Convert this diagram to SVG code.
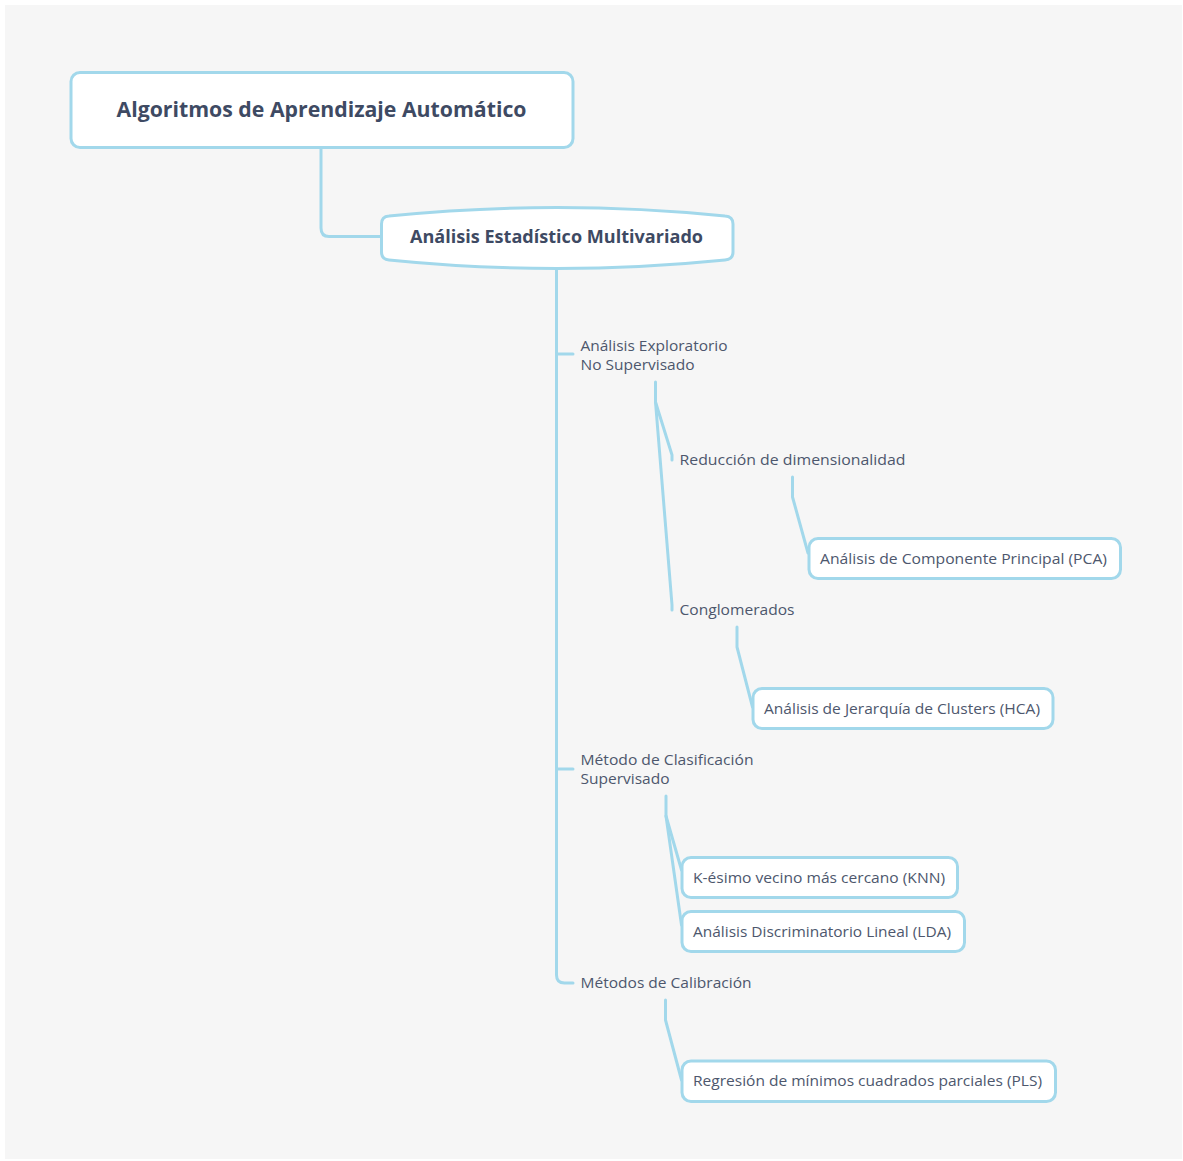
<svg xmlns="http://www.w3.org/2000/svg" width="1183" height="1161" viewBox="0 0 1183 1161">
<style>
.conn{fill:none;stroke:#a2d8eb;stroke-width:3;stroke-linecap:round;stroke-linejoin:round}
.box{fill:#ffffff;stroke:#a2d8eb;stroke-width:3}
.lbl{font-family:"Open Sans","Liberation Sans",sans-serif;font-size:14.5px;fill:#4d576d}
.bold{font-family:"Open Sans","Liberation Sans",sans-serif;font-weight:bold;fill:#3e4a63}
</style>
<rect x="0" y="0" width="1183" height="1161" fill="#ffffff"/>
<rect x="5" y="5" width="1177" height="1154" fill="#f6f6f6"/>
<g id="connectors">
<path class="conn" d="M321,147 V228 Q321,236.5 329,236.5 H381"/>
<path class="conn" d="M556.5,268 V975 Q556.5,983 564.5,983 H573"/>
<path class="conn" d="M556.5,354 H573"/>
<path class="conn" d="M556.5,769 H573"/>
<path class="conn" d="M655.5,382 V402 L672,455 V460"/>
<path class="conn" d="M655.5,402 L672,605 V610"/>
<path class="conn" d="M792.5,477 V497 L808,553"/>
<path class="conn" d="M737,627 V647 L752.5,707"/>
<path class="conn" d="M666,796 V816 L681.5,870"/>
<path class="conn" d="M666,816 L681.5,925"/>
<path class="conn" d="M665.5,1000 V1020 L681.5,1080"/>
</g>
<g id="root">
<rect class="box" x="71" y="72.5" width="502" height="75" rx="9"/>
<text class="bold" x="321.5" y="116.5" font-size="20.5" text-anchor="middle" textLength="410" lengthAdjust="spacingAndGlyphs">Algoritmos de Aprendizaje Automático</text>
</g>
<g id="multivariado">
<path class="box" d="M389,216 Q557,199 725,216 Q733,216.5 733,224 V252 Q733,259.5 725,260 Q557,277 389,260 Q381.5,259.5 381.5,252 V224 Q381.5,216.5 389,216 Z"/>
<text class="bold" x="556.5" y="242.7" font-size="17" text-anchor="middle" textLength="293" lengthAdjust="spacingAndGlyphs">Análisis Estadístico Multivariado</text>
</g>
<g id="exploratorio">
<text class="lbl" x="580.5" y="350.5" textLength="147" lengthAdjust="spacingAndGlyphs">Análisis Exploratorio</text>
<text class="lbl" x="580.5" y="369.5" textLength="114" lengthAdjust="spacingAndGlyphs">No Supervisado</text>
</g>
<g id="reduccion">
<text class="lbl" x="679.5" y="465" textLength="226" lengthAdjust="spacingAndGlyphs">Reducción de dimensionalidad</text>
</g>
<g id="pca">
<rect class="box" x="809" y="538.5" width="311.5" height="40" rx="9"/>
<text class="lbl" x="820" y="563.5" textLength="287" lengthAdjust="spacingAndGlyphs">Análisis de Componente Principal (PCA)</text>
</g>
<g id="conglomerados">
<text class="lbl" x="679.5" y="614.5" textLength="115" lengthAdjust="spacingAndGlyphs">Conglomerados</text>
</g>
<g id="hca">
<rect class="box" x="753" y="688.5" width="300" height="40" rx="9"/>
<text class="lbl" x="764" y="713.5" textLength="276" lengthAdjust="spacingAndGlyphs">Análisis de Jerarquía de Clusters (HCA)</text>
</g>
<g id="clasificacion">
<text class="lbl" x="580.5" y="764.5" textLength="173" lengthAdjust="spacingAndGlyphs">Método de Clasificación</text>
<text class="lbl" x="580.5" y="783.5" textLength="89" lengthAdjust="spacingAndGlyphs">Supervisado</text>
</g>
<g id="knn">
<rect class="box" x="682" y="857.5" width="275.5" height="40" rx="9"/>
<text class="lbl" x="693" y="882.5" textLength="252" lengthAdjust="spacingAndGlyphs">K-ésimo vecino más cercano (KNN)</text>
</g>
<g id="lda">
<rect class="box" x="682" y="911.5" width="282.5" height="40" rx="9"/>
<text class="lbl" x="693" y="936.5" textLength="258" lengthAdjust="spacingAndGlyphs">Análisis Discriminatorio Lineal (LDA)</text>
</g>
<g id="calibracion">
<text class="lbl" x="580.5" y="987.5" textLength="171" lengthAdjust="spacingAndGlyphs">Métodos de Calibración</text>
</g>
<g id="pls">
<rect class="box" x="682" y="1061" width="373.5" height="40.5" rx="9"/>
<text class="lbl" x="693" y="1086" textLength="349" lengthAdjust="spacingAndGlyphs">Regresión de mínimos cuadrados parciales (PLS)</text>
</g>
</svg>
